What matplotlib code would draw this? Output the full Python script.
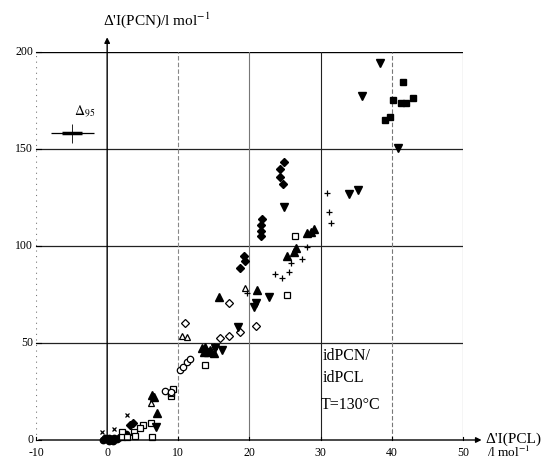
import matplotlib
matplotlib.use("Agg")
import matplotlib.pyplot as plt

plt.rcParams['font.family'] = ['Liberation Serif', 'DejaVu Serif']
plt.rcParams['mathtext.fontset'] = 'stix'

# ---- data ----
filled_diamond_x = [24.8, 24.3, 24.3, 24.7, 21.8, 21.6, 21.6, 21.6, 19.2, 19.4, 18.6, 3.2, 3.7]
filled_diamond_y = [143.3, 139.5, 135.7, 132.0, 113.8, 110.8, 107.9, 105.1, 94.8, 92.4, 88.5, 7.7, 8.9]

down_tri_x = [38.3, 35.8, 40.8, 34.0, 35.2, 24.9, 22.8, 20.9, 20.7, 18.4, 16.1, 15.2, 6.9]
down_tri_y = [194.5, 177.3, 150.4, 126.8, 128.9, 120.0, 73.9, 70.4, 68.4, 58.3, 46.4, 47.3, 6.9]

filled_square_x = [41.5, 40.2, 41.3, 42.0, 43.0, 39.1, 39.8]
filled_square_y = [184.7, 175.3, 173.6, 173.6, 176.1, 165.0, 166.7]

plus_x = [30.9, 31.2, 31.4, 28.1, 27.4, 25.9, 25.5, 23.6, 24.5, 19.6]
plus_y = [127.5, 117.7, 111.7, 99.3, 93.1, 91.0, 86.4, 85.6, 83.7, 76.0]

filled_tri_x = [28.1, 28.6, 29.1, 25.2, 26.2, 26.5, 21.1, 15.7, 13.3, 13.8, 14.1, 14.5, 15.0, 13.6, 6.3, 6.6, 7.0]
filled_tri_y = [106.5, 107.4, 108.6, 95.0, 97.0, 98.8, 77.2, 73.9, 47.3, 48.1, 45.5, 46.4, 44.7, 45.5, 23.2, 22.0, 13.9]

open_square_x = [26.4, 25.2, 13.7, 9.3, 9.0, 8.9, 6.1, 5.1, 4.6, 3.8, 2.1, 2.1, 2.8, 3.9, 6.3]
open_square_y = [105.2, 74.7, 38.5, 26.4, 22.5, 24.0, 8.9, 7.7, 6.0, 4.3, 4.3, 1.7, 1.7, 2.3, 1.3]

open_diamond_x = [17.1, 11.0, 20.9, 18.7, 17.1, 15.9]
open_diamond_y = [70.5, 60.5, 58.9, 55.8, 53.6, 52.4]

open_tri_x = [19.3, 10.5, 11.2, 15.0, 6.1]
open_tri_y = [78.3, 53.5, 53.0, 48.5, 19.0]

open_circle_x = [10.3, 10.7, 11.2, 11.7, 8.1, 8.9]
open_circle_y = [36.0, 37.8, 40.4, 42.0, 25.5, 24.9]

x_mark_x = [2.8, 1.0, -0.7]
x_mark_y = [12.7, 5.6, 4.2]

filled_circle_x = [-0.6, -0.3, 0.0, 0.3, 0.6, 1.0, 1.4, 0.2, 0.8, 1.8, 2.2, 2.6]
filled_circle_y = [0.2, 0.8, 0.3, 1.0, 0.5, 1.2, 0.6, -0.5, -0.3, 1.5, 2.2, 3.0]

# Delta95 error cross
err_x, err_y = [-4.9], [158.0]
err_x_thin, err_x_thick, err_y_half = [3.0], [1.4], [5.0]

xticks = [-10, 0, 10, 20, 30, 40, 50]
yticks = [0, 50, 100, 150, 200]

fig = plt.figure(figsize=(5.47, 4.61), dpi=100)
ax = fig.add_axes([36/547, 21/461, 427/547, 388/461])
ax.set_xlim(-10, 50)
ax.set_ylim(0, 200)
for s in ax.spines.values():
    s.set_visible(False)
ax.set_xticks([])
ax.set_yticks([])

# grid / frame
ax.plot([-10, 50], [200, 200], color='black', lw=1.0)
for yv in [50, 100, 150]:
    ax.plot([-10, 50], [yv, yv], color='#222222', lw=0.9)
ax.plot([-10, -10], [0, 200], color='#777777', lw=0.8, ls=(0, (1, 4)))
for xv, c, ls in [(10, '#888888', (0, (4, 2))), (20, '#777777', '-'), (30, '#222222', '-'),
                  (40, '#777777', (0, (4, 2))), (50, '#555555', '-')]:
    ax.plot([xv, xv], [0, 200], color=c, lw=0.8, ls=ls)

# main axes with arrows
ax.annotate('', xy=(53.0, 0), xytext=(-10, 0), annotation_clip=False,
            arrowprops=dict(arrowstyle='-|>', color='black', lw=1.0, mutation_scale=8))
ax.annotate('', xy=(0, 209), xytext=(0, 0), annotation_clip=False,
            arrowprops=dict(arrowstyle='-|>', color='black', lw=1.0, mutation_scale=8))

# tick marks and labels
for xv in xticks:
    ax.plot([xv, xv], [0, 1.5], color='black', lw=0.8, clip_on=False)
    ax.text(xv, -6.5, str(xv), ha='center', va='center', fontsize=8.5)
for yv in yticks:
    ax.plot([-10, -9.3], [yv, yv], color='black', lw=0.8, clip_on=False)
    ax.text(-10.4, yv, str(yv), ha='right', va='center', fontsize=8.5)

# markers
ms = 4.6
kw = dict(ls='none', clip_on=False, color='black')
ax.plot(filled_circle_x, filled_circle_y, marker='o', ms=ms, mfc='black', **kw)
ax.plot(open_square_x, open_square_y, marker='s', ms=ms, mfc='white', mew=0.9, **kw)
ax.plot(open_diamond_x, open_diamond_y, marker='D', ms=3.6, mfc='white', mew=0.9, **kw)
ax.plot(open_tri_x, open_tri_y, marker='^', ms=ms, mfc='white', mew=0.9, **kw)
ax.plot(open_circle_x, open_circle_y, marker='o', ms=ms, mfc='white', mew=0.9, **kw)
ax.plot(x_mark_x, x_mark_y, marker='x', ms=3.5, mew=0.9, **kw)
ax.plot(plus_x, plus_y, marker='+', ms=4.5, mew=0.9, **kw)
ax.plot(filled_diamond_x, filled_diamond_y, marker='D', ms=4.0, mfc='black', **kw)
ax.plot(down_tri_x, down_tri_y, marker='v', ms=5.2, mfc='black', **kw)
ax.plot(filled_tri_x, filled_tri_y, marker='^', ms=5.2, mfc='black', **kw)
ax.plot(filled_square_x, filled_square_y, marker='s', ms=5.0, mfc='black', **kw)

# Delta95 error cross
ax.errorbar(err_x, err_y, xerr=err_x_thin, fmt='none', ecolor='black', elinewidth=0.9, capsize=0)
ax.errorbar(err_x, err_y, xerr=err_x_thick, fmt='none', ecolor='black', elinewidth=2.5, capsize=0)
ax.errorbar(err_x, err_y, yerr=err_y_half, fmt='none', ecolor='black', elinewidth=0.6, capsize=0)
ax.text(-3.2, 169, r'$\Delta_{95}$', ha='center', va='center', fontsize=10)

# annotation text
ax.text(30.3, 43.5, 'idPCN/', ha='left', va='center', fontsize=11.5)
ax.text(30.3, 32, 'idPCL', ha='left', va='center', fontsize=11.5)
ax.text(30.0, 18, 'T=130°C', ha='left', va='center', fontsize=11.5)

# axis labels
ax.text(-0.6, 216.5, "Δ'I(PCN)/l mol$^{-1}$", ha='left', va='center', fontsize=11)
ax.text(53.2, 0.5, "Δ'I(PCL)", ha='left', va='center', fontsize=11)
ax.text(53.4, -6.6, "/l mol$^{-1}$", ha='left', va='center', fontsize=9.5)

fig.savefig('out.png', dpi=100)
